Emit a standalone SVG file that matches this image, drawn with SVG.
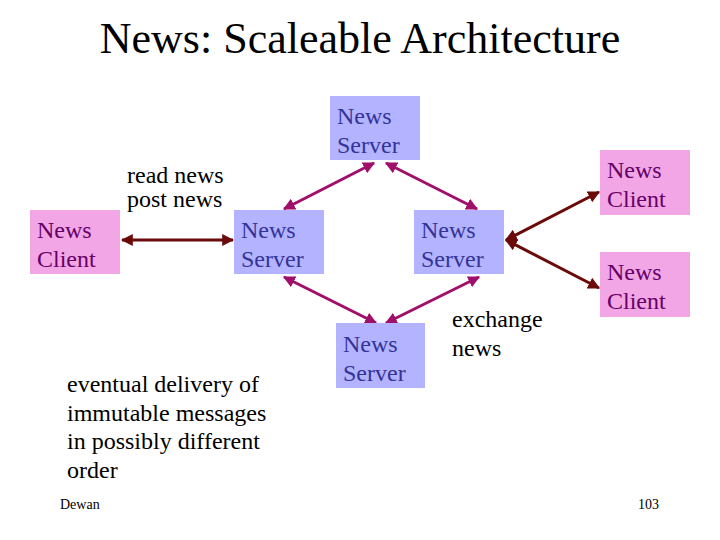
<svg xmlns="http://www.w3.org/2000/svg" width="720" height="540" viewBox="0 0 720 540" font-family="'Liberation Serif', 'DejaVu Serif', serif">
<style>
.t{font-size:24px;fill:#000;}
.srv rect{fill:#b3b3ff;}
.srv text{font-size:24px;fill:#333399;}
.cli rect{fill:#f2a6e6;}
.cli text{font-size:24px;fill:#660066;}
.ss{stroke:#a0106a;stroke-width:3;fill:none;marker-start:url(#ma);marker-end:url(#ma);}
.cs{stroke:#6b0a0a;stroke-width:3;fill:none;marker-start:url(#mb);marker-end:url(#mb);}
</style>
<defs>
<marker id="ma" viewBox="0 0 10 10" refX="9" refY="5" markerWidth="4" markerHeight="4" orient="auto-start-reverse"><path d="M0,0 L10,5 L0,10 z" fill="#a0106a"/></marker>
<marker id="mb" viewBox="0 0 10 10" refX="9" refY="5" markerWidth="4" markerHeight="4" orient="auto-start-reverse"><path d="M0,0 L10,5 L0,10 z" fill="#6b0a0a"/></marker>
</defs>
<rect width="720" height="540" fill="#fff"/>
<text x="360" y="53" text-anchor="middle" font-size="44">News: Scaleable Architecture</text>

<g id="connectors">
<line class="cs" x1="122" y1="240" x2="233" y2="240"/>
<line class="ss" x1="374" y1="163" x2="284" y2="209"/>
<line class="ss" x1="386" y1="163" x2="477" y2="209"/>
<line class="ss" x1="284" y1="277" x2="376" y2="323"/>
<line class="ss" x1="479" y1="277" x2="386" y2="323"/>
<line class="cs" x1="506" y1="240" x2="599" y2="192"/>
<line class="cs" x1="506" y1="240" x2="599" y2="288"/>
</g>

<g id="server-top" class="srv"><rect x="330" y="96" width="90" height="64"/><text x="337" y="124">News</text><text x="337" y="153">Server</text></g>
<g id="server-left" class="srv"><rect x="234" y="210" width="90" height="64"/><text x="241" y="238">News</text><text x="241" y="267">Server</text></g>
<g id="server-right" class="srv"><rect x="414" y="210" width="90" height="64"/><text x="421" y="238">News</text><text x="421" y="267">Server</text></g>
<g id="server-bottom" class="srv"><rect x="336" y="323" width="89" height="65"/><text x="343" y="352">News</text><text x="343" y="381">Server</text></g>
<g id="client-left" class="cli"><rect x="30" y="210" width="90" height="64"/><text x="37" y="238">News</text><text x="37" y="267">Client</text></g>
<g id="client-top" class="cli"><rect x="600" y="150" width="90" height="65"/><text x="607" y="178">News</text><text x="607" y="207">Client</text></g>
<g id="client-bottom" class="cli"><rect x="600" y="252" width="90" height="65"/><text x="607" y="280">News</text><text x="607" y="309">Client</text></g>

<text class="t" x="127" y="183">read news</text>
<text class="t" x="127" y="207">post news</text>
<text class="t" x="452" y="327">exchange</text>
<text class="t" x="452" y="356">news</text>
<text class="t" x="67" y="392">eventual delivery of</text>
<text class="t" x="67" y="421">immutable messages</text>
<text class="t" x="67" y="449">in possibly different</text>
<text class="t" x="67" y="478">order</text>
<text x="60" y="509" font-size="14">Dewan</text>
<text x="638" y="509" font-size="14">103</text>
</svg>
